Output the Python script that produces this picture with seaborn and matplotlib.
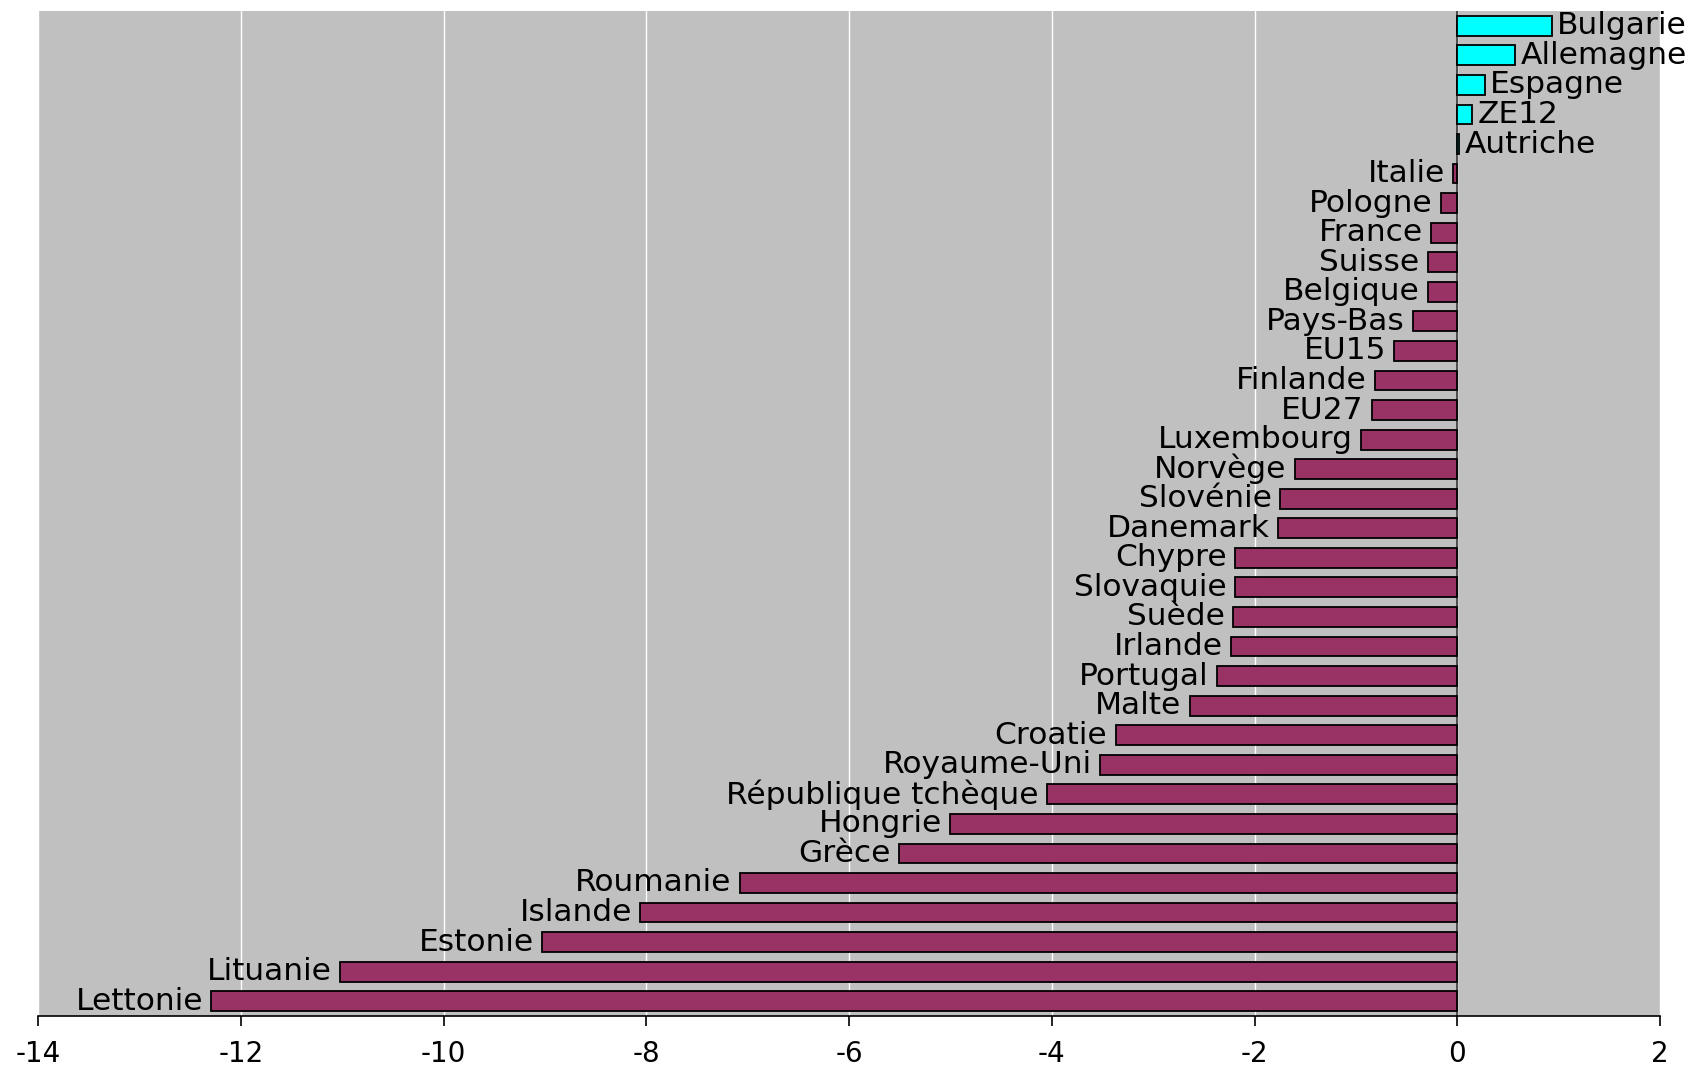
import numpy as np
import pandas as pd
import seaborn as sns
import matplotlib.pyplot as plt

# categories from top to bottom of the chart
pays = ["Bulgarie", "Allemagne", "Espagne", "ZE12", "Autriche", "Italie",
        "Pologne", "France", "Suisse", "Belgique", "Pays-Bas", "EU15",
        "Finlande", "EU27", "Luxembourg", "Norvège", "Slovénie", "Danemark",
        "Chypre", "Slovaquie", "Suède", "Irlande", "Portugal", "Malte",
        "Croatie", "Royaume-Uni", "République tchèque", "Hongrie", "Grèce",
        "Roumanie", "Islande", "Estonie", "Lituanie", "Lettonie"]
valeurs = [0.93, 0.57, 0.27, 0.15, 0.02, -0.04,
           -0.16, -0.26, -0.29, -0.29, -0.44, -0.62,
           -0.81, -0.84, -0.95, -1.60, -1.75, -1.77,
           -2.19, -2.19, -2.21, -2.23, -2.37, -2.64,
           -3.37, -3.52, -4.05, -5.00, -5.51,
           -7.08, -8.06, -9.03, -11.02, -12.29]
x_ticks = [-14, -12, -10, -8, -6, -4, -2, 0, 2]

df = pd.DataFrame({"pays": pays, "valeur": valeurs})
df["signe"] = np.where(df["valeur"] >= 0, "pos", "neg")

sns.set_style("white")
plt.rcParams["font.family"] = ["DejaVu Sans"]
plt.rcParams["text.color"] = "black"
plt.rcParams["xtick.color"] = "black"

fig = plt.figure(figsize=(16.98, 10.67), dpi=100)
ax = fig.add_axes([38 / 1698, 1 - 1016 / 1067, (1660 - 38) / 1698, (1016 - 11) / 1067])
ax.set_facecolor("#C0C0C0")

sns.barplot(data=df, x="valeur", y="pays", hue="signe", order=pays,
            palette={"pos": "#00FFFF", "neg": "#993366"}, saturation=1,
            dodge=False, orient="h", width=0.67, edgecolor="black",
            linewidth=1.3, legend=False, ax=ax, zorder=3)

ax.set_xlim(-14, 2)
ax.set_ylim(len(pays) - 0.5, -0.5)
ax.set_xticks(x_ticks)
ax.set_xticklabels([str(t) for t in x_ticks], fontsize=20)
ax.tick_params(axis="x", direction="out", length=7, width=1.2, color="black",
               labelcolor="black", pad=10, bottom=True)
ax.set_yticks([])
ax.set_xlabel("")
ax.set_ylabel("")

ax.grid(axis="x", color="white", linewidth=1)
ax.set_axisbelow(True)
ax.axvline(0, color="#404040", linewidth=1.3, zorder=2)

for s in ["left", "top", "right"]:
    ax.spines[s].set_visible(False)
ax.spines["bottom"].set_color("black")
ax.spines["bottom"].set_linewidth(1.2)

# labels next to bar ends
for i, (nom, v) in enumerate(zip(pays, valeurs)):
    if v >= 0:
        ax.annotate(nom, (v, i), xytext=(4, 0), textcoords="offset points",
                    ha="left", va="center", fontsize=22.5, color="black",
                    annotation_clip=False)
    else:
        ax.annotate(nom, (v, i), xytext=(-6, 0), textcoords="offset points",
                    ha="right", va="center", fontsize=22.5, color="black",
                    annotation_clip=False)

fig.savefig("out.png", dpi=100)
